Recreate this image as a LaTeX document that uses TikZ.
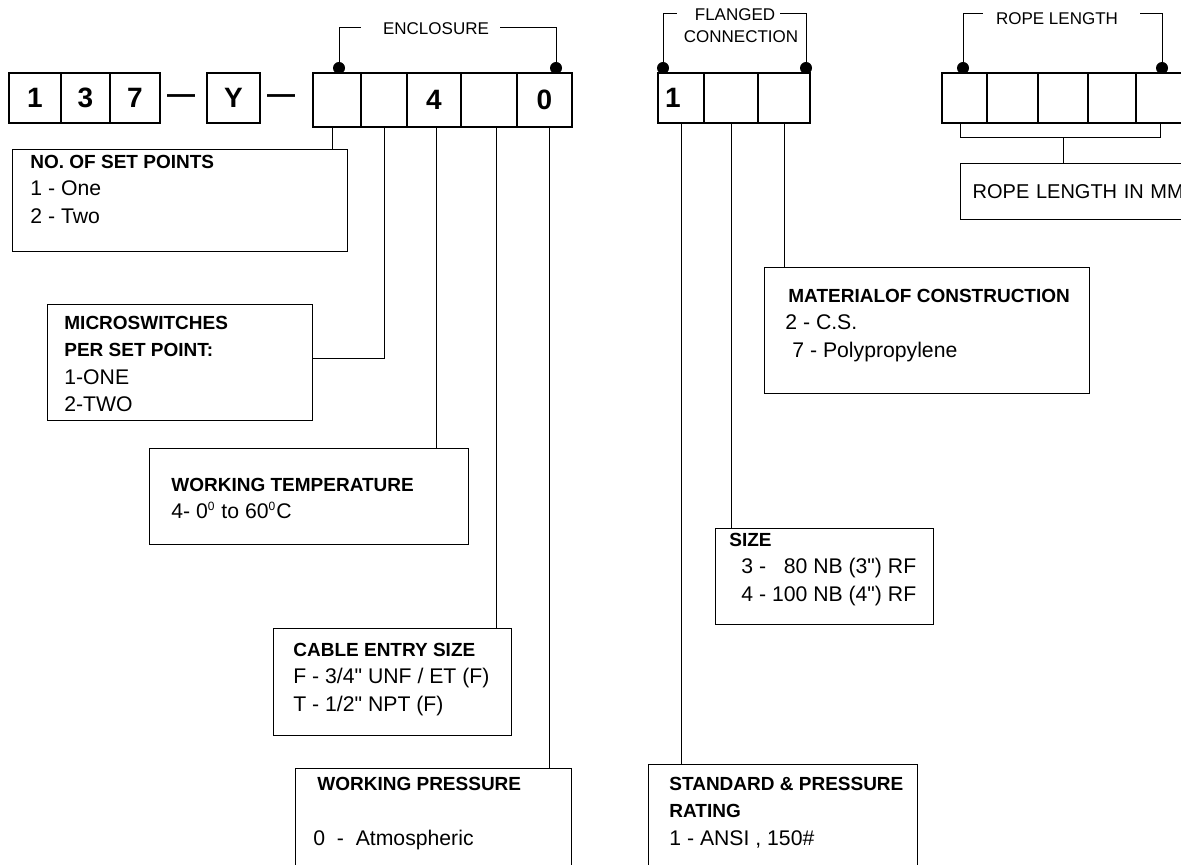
\documentclass[tikz,border=0pt]{standalone}
\usepackage{fontspec}
\setmainfont{Liberation Sans}[Ligatures=TeXOff]
\usetikzlibrary{positioning}
\newcommand\headtxt[1]{{\fontsize{9.5}{13.6}\selectfont\bfseries #1}}
\newcommand\degsup{\textsuperscript{\fontsize{6}{6}\selectfont 0}}

\begin{document}
\begin{tikzpicture}[x=0.5pt,y=-0.5pt,
  cell/.style={draw,line width=0.7pt,outer sep=0pt,inner sep=0pt,minimum height=25pt,font=\fontsize{14}{16}\selectfont\bfseries},
  tbox/.style={draw,line width=0.7pt,anchor=north west,inner sep=0pt},
  txt/.style={anchor=north west,inner sep=0pt,align=left,font=\fontsize{10.6}{13.6}\selectfont},
  lbl/.style={inner sep=0pt,font=\fontsize{8.5}{11}\selectfont},
  dot/.style={circle,fill=black,inner sep=0pt,minimum size=6pt},
  lead/.style={line width=0.5pt},
  dsh/.style={inner sep=0pt,font=\fontsize{14}{16}\selectfont\bfseries}]
 \useasboundingbox (0,0) rectangle (1181,865);
 \clip (0,0) rectangle (1181,865);
 % model code cells
 \node[cell,minimum width=26pt,anchor=north west] (c1) at (9,73) {1};
 \node[cell,minimum width=24.5pt,right=0pt of c1] (c2) {3};
 \node[cell,minimum width=25pt,right=0pt of c2] (c3) {7};
 \node[dsh] (d1) at (181,99) {—};
 \node[cell,minimum width=26.5pt,anchor=north west] (y1) at (207,73) {Y};
 \node[dsh] (d2) at (281,99) {—};
 % enclosure
 \node[cell,minimum width=24pt,minimum height=27pt,anchor=north west] (e1) at (313,73) {};
 \node[cell,minimum width=23pt,minimum height=27pt,right=0pt of e1] (e2) {};
 \node[cell,minimum width=27pt,minimum height=27pt,right=0pt of e2] (e3) {4};
 \node[cell,minimum width=28pt,minimum height=27pt,right=0pt of e3] (e4) {};
 \node[cell,minimum width=27.5pt,minimum height=27pt,right=0pt of e4] (e5) {0};
 % flanged connection
 \node[cell,minimum width=23pt,anchor=north west] (f1) at (658,73) {\hspace*{-8pt}1};
 \node[cell,minimum width=27pt,right=0pt of f1] (f2) {};
 \node[cell,minimum width=26pt,right=0pt of f2] (f3) {};
 % rope length
 \node[cell,minimum width=22.5pt,anchor=north west] (r1) at (942,73) {};
 \node[cell,minimum width=25.5pt,right=0pt of r1] (r2) {};
 \node[cell,minimum width=25pt,right=0pt of r2] (r3) {};
 \node[cell,minimum width=24pt,right=0pt of r3] (r4) {};
 \node[cell,minimum width=24pt,right=0pt of r4] (r5) {};
 % brackets
 \node[dot] (ed1) at (339,68) {};
 \node[dot] (ed2) at (556,68) {};
 \node[dot] (fd1) at (663,68) {};
 \node[dot] (fd2) at (806,68) {};
 \node[dot] (rd1) at (963,68) {};
 \node[dot] (rd2) at (1162,68) {};
 \node[lbl] (encl) at (436,29) {ENCLOSURE};
 \node[lbl,anchor=north,align=center] (flg) at (741,8) {FLANGED\hspace*{6pt}\\CONNECTION};
 \node[lbl] (rope) at (1057,19) {ROPE LENGTH};
 \draw[lead] (ed1.center) -- ++(0,-40) -- ++(22,0);
 \draw[lead] (ed2.center) -- ++(0,-40) -- ++(-56,0);
 \draw[lead] (fd1.center) -- ++(0,-54) -- ++(14,0);
 \draw[lead] (fd2.center) -- ++(0,-54) -- ++(-26,0);
 \draw[lead] (rd1.center) -- ++(0,-54) -- ++(20,0);
 \draw[lead] (rd2.center) -- ++(0,-54) -- ++(-22,0);
 % description boxes
 \node[tbox,minimum width=167.5pt,minimum height=51pt] (nsp) at (12,149) {};
 \node[txt] (nsptxt) at ([shift={(18,6)}]nsp.north west) {\headtxt{NO. OF SET POINTS}\\1 - One\\2 - Two};
 \node[tbox,minimum width=132.5pt,minimum height=58pt] (msw) at (47,304) {};
 \node[txt] (mswtxt) at ([shift={(17,12)}]msw.north west) {\headtxt{MICROSWITCHES}\\\headtxt{PER SET POINT:}\\1-ONE\\2-TWO};
 \node[tbox,minimum width=159.5pt,minimum height=48pt] (wtemp) at (149,448) {};
 \node[txt] (wtemptxt) at ([shift={(22,30)}]wtemp.north west) {\headtxt{WORKING TEMPERATURE}\\4- 0\degsup{} to 60\degsup C};
 \node[tbox,minimum width=119pt,minimum height=53.5pt] (cable) at (273,628) {};
 \node[txt] (cabletxt) at ([shift={(20,15)}]cable.north west) {\headtxt{CABLE ENTRY SIZE}\\F - 3/4" UNF / ET (F)\\T - 1/2" NPT (F)};
 \node[tbox,minimum width=138pt,minimum height=60pt] (wpress) at (295,768) {};
 \node[txt] (wpresstxt) at ([shift={(22,9)}]wpress.north west) {\headtxt{WORKING PRESSURE}\\[13.6pt]\hspace*{-2pt}0 \ - \ Atmospheric};
 \node[tbox,minimum width=134.5pt,minimum height=60pt] (std) at (648,764) {};
 \node[txt] (stdtxt) at ([shift={(21,13)}]std.north west) {\headtxt{STANDARD \& PRESSURE}\\\headtxt{RATING}\\1 - ANSI , 150\#};
 \node[tbox,minimum width=109pt,minimum height=48pt] (size) at (715,528) {};
 \node[txt] (sizetxt) at ([shift={(14,5)}]size.north west) {\headtxt{SIZE}\\\hspace*{6pt}3 - \phantom{1}80 NB (3") RF\\\hspace*{6pt}4 - 100 NB (4") RF};
 \node[tbox,minimum width=162.5pt,minimum height=63pt] (mat) at (764,267) {};
 \node[txt] (mattxt) at ([shift={(24,22)}]mat.north west) {\headtxt{MATERIALOF CONSTRUCTION}\\\hspace*{-1.5pt}2 - C.S.\\\hspace*{2pt}7 - Polypropylene};
 \node[tbox,minimum width=120pt,minimum height=28pt,text width=108pt,inner xsep=6pt,align=left,font=\fontsize{10}{12}\selectfont] (rbox) at (960,163) {ROPE LENGTH IN MM};
 % leaders
 \coordinate (e1b) at ([xshift=-2.5pt]e1.south);
 \coordinate (e3b) at ([xshift=1pt]e3.south);
 \coordinate (e4b) at ([xshift=3.5pt]e4.south);
 \coordinate (e5b) at ([xshift=2.25pt]e5.south);
 \draw[lead] (e1b) -- (e1b |- nsp.north);
 \draw[lead] (e2.south) |- ([yshift=2pt]msw.east);
 \draw[lead] (e3b) -- (e3b |- wtemp.north);
 \draw[lead] (e4b) -- (e4b |- cable.north);
 \draw[lead] (e5b) -- (e5b |- wpress.north);
 \draw[lead] (f1.south) -- (f1.south |- std.north);
 \draw[lead] (f2.south) -- (f2.south |- size.north);
 \draw[lead] (f3.south) -- (f3.south |- mat.north);
 \coordinate (r1b) at ([xshift=-2.25pt]r1.south);
 \draw[lead] (r1b) -- ++(0,15) -| (r5.south);
 \draw[lead] (r3.south |- 0,138) -- (r3.south |- rbox.north);
\end{tikzpicture}
\end{document}
